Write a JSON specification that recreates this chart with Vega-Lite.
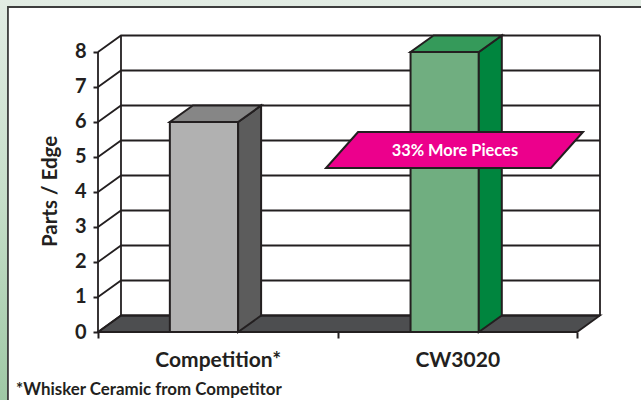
{
"$schema":"https://vega.github.io/schema/vega-lite/v6.json",
"width":502,"height":296,
"autosize":{"type":"none"},
"padding":{"left":98,"top":36,"right":41,"bottom":68},
"background":"white",
"view":{"stroke":null},
"config":{"font":"Lato"},
"datasets":{
"backdrop":[{"x":-0.41,"x2":2.27,"y":-1.95,"y2":9.49}],
"panel":[{"x":-0.376,"x2":2.4,"y":-2.2,"y2":9.286}],
"floor":[{"x":0,"x2":2,"y":0},{"x":0.096,"x2":2.096,"y":0.471}],
"grid":[
{"v":0,"o":1,"x":0,"y":0},{"v":0,"o":2,"x":0.096,"y":0.471},{"v":0,"o":3,"x":2.096,"y":0.471},
{"v":1,"o":1,"x":0,"y":1},{"v":1,"o":2,"x":0.096,"y":1.471},{"v":1,"o":3,"x":2.096,"y":1.471},
{"v":2,"o":1,"x":0,"y":2},{"v":2,"o":2,"x":0.096,"y":2.471},{"v":2,"o":3,"x":2.096,"y":2.471},
{"v":3,"o":1,"x":0,"y":3},{"v":3,"o":2,"x":0.096,"y":3.471},{"v":3,"o":3,"x":2.096,"y":3.471},
{"v":4,"o":1,"x":0,"y":4},{"v":4,"o":2,"x":0.096,"y":4.471},{"v":4,"o":3,"x":2.096,"y":4.471},
{"v":5,"o":1,"x":0,"y":5},{"v":5,"o":2,"x":0.096,"y":5.471},{"v":5,"o":3,"x":2.096,"y":5.471},
{"v":6,"o":1,"x":0,"y":6},{"v":6,"o":2,"x":0.096,"y":6.471},{"v":6,"o":3,"x":2.096,"y":6.471},
{"v":7,"o":1,"x":0,"y":7},{"v":7,"o":2,"x":0.096,"y":7.471},{"v":7,"o":3,"x":2.096,"y":7.471},
{"v":8,"o":1,"x":0,"y":8},{"v":8,"o":2,"x":0.096,"y":8.471},{"v":8,"o":3,"x":2.096,"y":8.471},
{"v":"left","o":1,"x":0,"y":0},{"v":"left","o":2,"x":0,"y":8},
{"v":"back","o":1,"x":0.096,"y":0.471},{"v":"back","o":2,"x":0.096,"y":8.471},
{"v":"right","o":1,"x":2.096,"y":0.471},{"v":"right","o":2,"x":2.096,"y":8.471}
],
"front":[
{"face":"Competition front","x":0.3,"x2":0.585,"y":0,"y2":6},
{"face":"CW3020 front","x":1.305,"x2":1.59,"y":0,"y2":8}
],
"side":[
{"face":"Competition side","x":0.585,"y":0,"y2":6},
{"face":"Competition side","x":0.681,"y":0.471,"y2":6.471},
{"face":"CW3020 side","x":1.59,"y":0,"y2":8},
{"face":"CW3020 side","x":1.686,"y":0.471,"y2":8.471}
],
"top":[
{"face":"Competition top","x":0.3,"x2":0.585,"y":6},
{"face":"Competition top","x":0.396,"x2":0.681,"y":6.471},
{"face":"CW3020 top","x":1.305,"x2":1.59,"y":8},
{"face":"CW3020 top","x":1.401,"x2":1.686,"y":8.471}
],
"callout":[{"x":0.952,"x2":1.891,"y":4.686},{"x":1.086,"x2":2.025,"y":5.714}],
"calloutText":[{"x":1.49,"y":5.18,"label":"33% More Pieces"}],
"footnote":[{"x":-0.342,"y":-1.67,"label":"*Whisker Ceramic from Competitor"}]
},
"encoding":{
"x":{"field":"x","type":"quantitative","scale":{"domain":[0,2.096],"nice":false,"zero":false},
"axis":{"values":[0,0.5,1,1.5,2],"grid":false,"domain":false,"title":null,"zindex":1,
"labelExpr":"datum.value==0.5?'Competition*':datum.value==1.5?'CW3020':''",
"labelFontSize":21,"labelFontWeight":"bold","labelColor":"#231f20","labelPadding":11,"labelFlush":false,"labelOverlap":false,
"tickColor":"#231f20","tickWidth":2,"tickSize":6,
"tickOpacity":{"condition":{"test":"datum.value%1==0","value":1},"value":0}}},
"y":{"field":"y","type":"quantitative","scale":{"domain":[0,8.457],"nice":false,"zero":false},
"axis":{"values":[0,1,2,3,4,5,6,7,8],"grid":false,"domain":false,"title":"Parts / Edge","zindex":1,
"labelFontSize":20,"labelFontWeight":"bold","labelColor":"#231f20","labelPadding":7,
"tickColor":"#231f20","tickWidth":2,"tickSize":5,
"titleFontSize":20.5,"titleFontWeight":"bold","titleColor":"#231f20","titleX":-38,"titleY":155,"titleAnchor":"middle"}}
},
"layer":[
{"data":{"name":"backdrop"},"mark":{"type":"rect","fill":{"gradient":"linear","x1":0,"y1":0,"x2":0,"y2":1,"stops":[{"offset":0,"color":"#e2ece4"},{"offset":0.5,"color":"#c6dec9"},{"offset":1,"color":"#9fc8a5"}]}},
"encoding":{"x2":{"field":"x2"},"y2":{"field":"y2"}}},
{"data":{"name":"panel"},"mark":{"type":"rect","fill":"white","stroke":"#3d3d3d","strokeWidth":1.8},
"encoding":{"x2":{"field":"x2"},"y2":{"field":"y2"}}},
{"data":{"name":"floor"},"mark":{"type":"area","orient":"horizontal","fill":"#4d4e50","stroke":"#231f20","strokeWidth":1.8},
"encoding":{"x2":{"field":"x2"}}},
{"data":{"name":"grid"},"mark":{"type":"line","color":"#231f20","strokeWidth":1.8},
"encoding":{"detail":{"field":"v"},"order":{"field":"o"}}},
{"data":{"name":"front"},"mark":{"type":"rect","stroke":"#231f20","strokeWidth":2},
"encoding":{"x2":{"field":"x2"},"y2":{"field":"y2"},
"fill":{"field":"face","legend":null,"scale":{"domain":["Competition front","Competition side","Competition top","CW3020 front","CW3020 side","CW3020 top"],"range":["#b1b1b1","#5c5c5c","#868686","#70ae80","#00853e","#359a5a"]}}}},
{"data":{"name":"side"},"mark":{"type":"area","stroke":"#231f20","strokeWidth":2},
"encoding":{"y2":{"field":"y2"},
"fill":{"field":"face","legend":null,"scale":{"domain":["Competition front","Competition side","Competition top","CW3020 front","CW3020 side","CW3020 top"],"range":["#b1b1b1","#5c5c5c","#868686","#70ae80","#00853e","#359a5a"]}}}},
{"data":{"name":"top"},"mark":{"type":"area","orient":"horizontal","stroke":"#231f20","strokeWidth":2},
"encoding":{"x2":{"field":"x2"},
"fill":{"field":"face","legend":null,"scale":{"domain":["Competition front","Competition side","Competition top","CW3020 front","CW3020 side","CW3020 top"],"range":["#b1b1b1","#5c5c5c","#868686","#70ae80","#00853e","#359a5a"]}}}},
{"data":{"name":"callout"},"mark":{"type":"area","orient":"horizontal","fill":"#ec008c","stroke":"#231f20","strokeWidth":2},
"encoding":{"x2":{"field":"x2"}}},
{"data":{"name":"calloutText"},"mark":{"type":"text","color":"white","fontWeight":"bold","fontSize":16.4,"align":"center","baseline":"middle"},
"encoding":{"text":{"field":"label"}}},
{"data":{"name":"footnote"},"mark":{"type":"text","color":"#231f20","fontWeight":"bold","fontSize":16.9,"align":"left","baseline":"middle"},
"encoding":{"text":{"field":"label"}}}
]
}
